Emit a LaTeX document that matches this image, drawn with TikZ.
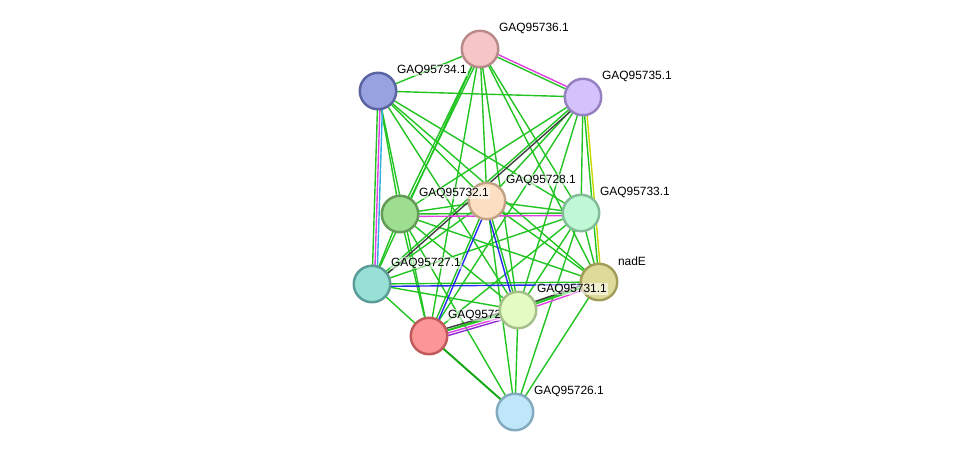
\documentclass[tikz,border=0pt]{standalone}
\usepackage{fontspec}
\setmainfont{Liberation Sans}
\usetikzlibrary{calc,backgrounds}

% node colours: fill f.., rim d..
\definecolor{f36}{HTML}{F6C6C6}\definecolor{d36}{HTML}{B88A8A}
\definecolor{f34}{HTML}{98A2E0}\definecolor{d34}{HTML}{5A64A0}
\definecolor{f35}{HTML}{D4C2FC}\definecolor{d35}{HTML}{9580C0}
\definecolor{f28}{HTML}{FCDEC2}\definecolor{d28}{HTML}{C0A286}
\definecolor{f32}{HTML}{9EDE90}\definecolor{d32}{HTML}{629A56}
\definecolor{f33}{HTML}{BEF8D4}\definecolor{d33}{HTML}{82BC98}
\definecolor{f27}{HTML}{98E0D6}\definecolor{d27}{HTML}{5C9C96}
\definecolor{fnadE}{HTML}{DEDA9A}\definecolor{dnadE}{HTML}{A29E5A}
\definecolor{f29}{HTML}{FC9696}\definecolor{d29}{HTML}{C05A5A}
\definecolor{f31}{HTML}{E2FCC4}\definecolor{d31}{HTML}{A6C08A}
\definecolor{f26}{HTML}{C0E6FA}\definecolor{d26}{HTML}{84AAC0}
% evidence colours
\definecolor{evgreen}{HTML}{22C422}
\definecolor{evdark}{HTML}{12A812}
\definecolor{evmag}{HTML}{E040E0}
\definecolor{evblue}{HTML}{2A2AF0}
\definecolor{evblack}{HTML}{404040}
\definecolor{evcyan}{HTML}{30B0E0}
\definecolor{evyel}{HTML}{C8D800}
\definecolor{evpurp}{HTML}{8A2AD8}

\begin{document}
\begin{tikzpicture}[
    x=0.02cm, y=-0.02cm,
    prot/.style={circle, minimum size=0.73cm, inner sep=0pt, line width=1.4pt},
    lbl/.style={anchor=west, inner sep=0.4pt, fill=white, fill opacity=0.55, text opacity=1,
        font=\fontsize{6.8}{8}\selectfont},
    ev/.style={line width=0.8pt, draw=evgreen},
]
    \useasboundingbox (0,0) rectangle (975,458);

    % proteins with their labels, in drawing order
    \foreach \n/\x/\y/\t in {36/480/49/GAQ95736.1, 34/378/91/GAQ95734.1,
        35/583/97/GAQ95735.1, 28/487/201/GAQ95728.1, 32/400/214/GAQ95732.1,
        33/581/213/GAQ95733.1, 27/372/284/GAQ95727.1, nadE/599/282/nadE,
        29/429/336/GAQ95729.1, 31/518/310/GAQ95731.1, 26/515/412/GAQ95726.1}{
        \node[prot, fill=f\n, draw=d\n] (p\n) at (\x,\y) {};
        \node[lbl] (l\n) at ($(p\n)+(18,-21)$) {\t};
    }

    \begin{scope}[on background layer]
    % neighbourhood evidence
    \foreach \a/\b in {36/34, 36/35, 36/32, 36/27, 36/28, 36/33, 36/nadE, 36/31, 36/29,
        34/35, 34/27, 34/32, 34/28, 34/33, 34/nadE, 34/31, 34/29,
        35/32, 35/28, 35/27, 35/33, 35/nadE, 35/31, 35/29,
        32/28, 32/33, 32/27, 32/29, 32/31, 32/nadE, 32/26,
        28/33, 28/27, 28/29, 28/31, 28/nadE, 28/26,
        33/27, 33/29, 33/31, 33/nadE, 33/26,
        27/nadE, 27/31, 27/29,
        nadE/31, nadE/29, nadE/26, 31/29, 31/26}
        \draw[ev] (p\a.center) -- (p\b.center);
    \draw[ev, draw=evdark, line width=1.1pt] (p29.center) -- (p26.center);
    % other evidence, shifted beside the green line
    \foreach \a/\b/\c/\o in {36/35/evmag/1.5pt, 36/32/evgreen/1.5pt,
        34/27/evmag/1.4pt, 34/27/evcyan/2.8pt, 35/27/evblack/1.4pt,
        35/nadE/evyel/1.4pt, 32/33/evmag/-1.4pt,
        28/29/evblue/1.4pt, 28/31/evblue/-1.4pt, 27/nadE/evblue/-1.4pt,
        29/31/evblack/1.4pt, 29/31/evmag/-1.4pt, 29/31/evpurp/-2.8pt,
        31/nadE/evblack/1.4pt, 31/nadE/evmag/-1.4pt}
        \draw[ev, draw=\c] ($(p\a.center)!\o!90:(p\b.center)$) -- ($(p\b.center)!\o!-90:(p\a.center)$);
    \end{scope}
\end{tikzpicture}
\end{document}
